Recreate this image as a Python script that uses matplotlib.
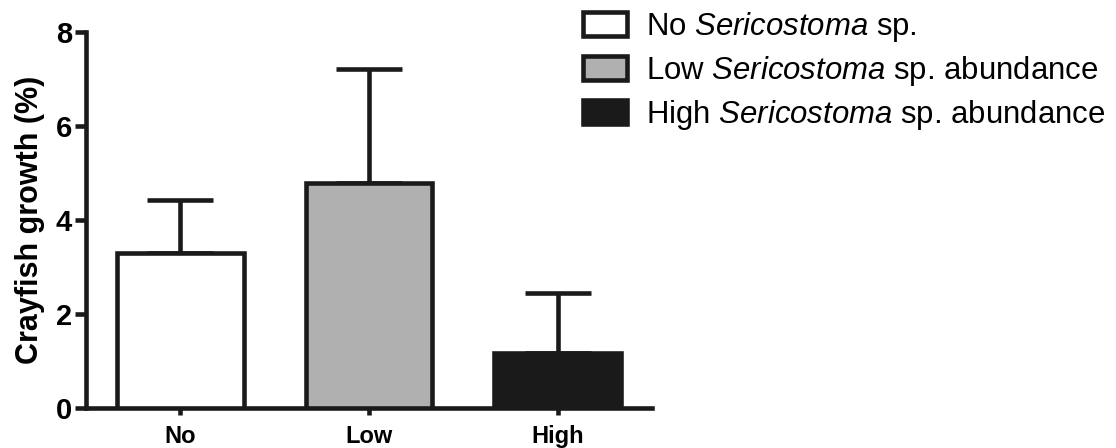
import matplotlib
matplotlib.use("Agg")
import matplotlib.pyplot as plt

plt.rcParams["font.family"] = ["Liberation Sans", "DejaVu Sans"]
plt.rcParams["mathtext.fontset"] = "custom"
plt.rcParams["mathtext.rm"] = "Liberation Sans"
plt.rcParams["mathtext.it"] = "Liberation Sans:italic"

# Crayfish growth per Sericostoma treatment (mean and upper SE)
groups = ["No", "Low", "High"]
growth_mean = [3.30, 4.79, 1.17]
growth_err = [1.13, 2.42, 1.28]
fill_colors = ["white", "#b0b0b0", "#1a1a1a"]
legend_labels = [
    r"No $\mathit{Sericostoma}$ sp.",
    r"Low $\mathit{Sericostoma}$ sp. abundance",
    r"High $\mathit{Sericostoma}$ sp. abundance",
]

ink = "#1a1a1a"
lw = 3.3

fig = plt.figure(figsize=(11.16, 4.48), dpi=100)
ax = fig.add_axes([0.0771, 0.0893, 0.5071, 0.8393])

x = list(range(len(groups)))
bars = ax.bar(x, growth_mean, width=0.67, color=fill_colors, edgecolor=ink,
              linewidth=lw, zorder=3)
ax.errorbar(x, growth_mean, yerr=[[0, 0, 0], growth_err], fmt="none",
            ecolor=ink, elinewidth=lw, capsize=24, capthick=lw, zorder=2)

ax.set_xlim(-0.5, 2.5)
ax.set_ylim(0, 8)
ax.set_yticks([0, 2, 4, 6, 8])
ax.set_xticks(x)
ax.set_xticklabels(groups, fontsize=17, fontweight="bold")
for t in ax.get_yticklabels():
    t.set_fontsize(21)
    t.set_fontweight("bold")
ax.set_ylabel("Crayfish growth (%)", fontsize=22, fontweight="bold", labelpad=8)

for side in ("top", "right"):
    ax.spines[side].set_visible(False)
for side in ("left", "bottom"):
    ax.spines[side].set_linewidth(lw)
    ax.spines[side].set_color(ink)
ax.tick_params(axis="y", length=8, width=lw, color=ink, pad=2)
ax.tick_params(axis="x", length=5, width=lw, color=ink, pad=7)

fig.legend(bars, legend_labels, loc="upper left", bbox_to_anchor=(0.497, 1.04),
           frameon=False, fontsize=22.4, handlelength=1.43, handleheight=0.83,
           handletextpad=0.6, labelspacing=0.32)

fig.savefig("out.png", dpi=100)
